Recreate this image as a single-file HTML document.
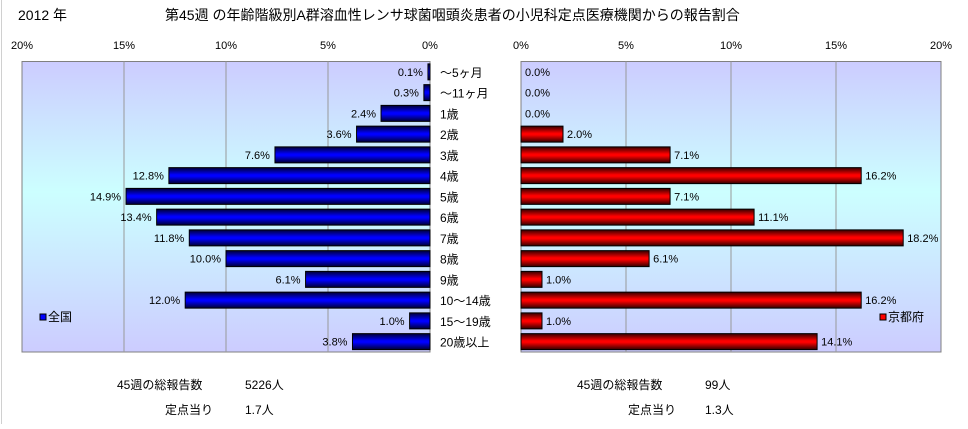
<!DOCTYPE html>
<html><head><meta charset="utf-8"><style>
body{margin:0;background:#fff;font-family:"Liberation Sans","Noto Sans CJK JP",sans-serif;}
svg text{font-family:"Liberation Sans","Noto Sans CJK JP",sans-serif;fill:#000;}
</style></head><body>
<svg id="c" width="968" height="424" xmlns="http://www.w3.org/2000/svg">
<defs>
<linearGradient id="bg" x1="0" y1="0" x2="0" y2="1">
<stop offset="0" stop-color="#ccccff"/><stop offset="0.45" stop-color="#ccffff"/><stop offset="1" stop-color="#ccccff"/></linearGradient>
<linearGradient id="gb" x1="0" y1="0" x2="0" y2="1">
<stop offset="0" stop-color="#000033"/><stop offset="0.45" stop-color="#0000ff"/><stop offset="0.55" stop-color="#0000ff"/><stop offset="1" stop-color="#000033"/></linearGradient>
<linearGradient id="gr" x1="0" y1="0" x2="0" y2="1">
<stop offset="0" stop-color="#330000"/><stop offset="0.45" stop-color="#ff0000"/><stop offset="0.55" stop-color="#ff0000"/><stop offset="1" stop-color="#330000"/></linearGradient>
</defs>
<line x1="1.5" y1="0" x2="1.5" y2="424" stroke="#d0d0d0"/>
<text x="18" y="20" font-size="14">2012 年</text>
<text x="165" y="20" font-size="14">第45週 の年齢階級別A群溶血性レンサ球菌咽頭炎患者の小児科定点医療機関からの報告割合</text>
<rect x="22" y="61.5" width="408" height="290.5" fill="url(#bg)" stroke="#808080"/>
<rect x="521" y="61.5" width="420" height="290.5" fill="url(#bg)" stroke="#808080"/>
<g id="g"></g>
<rect x="40" y="314" width="6" height="6" fill="#0000ff" stroke="#000"/>
<text x="48" y="321" font-size="12">全国</text>
<rect x="880" y="314" width="6" height="6" fill="#ff0000" stroke="#000"/>
<text x="888" y="321" font-size="12">京都府</text>
<text x="117" y="389" font-size="12">45週の総報告数</text>
<text x="245" y="389" font-size="12">5226人</text>
<text x="165" y="414" font-size="12">定点当り</text>
<text x="245" y="414" font-size="12">1.7人</text>
<text x="577" y="389" font-size="12">45週の総報告数</text>
<text x="705" y="389" font-size="12">99人</text>
<text x="628" y="414" font-size="12">定点当り</text>
<text x="705" y="414" font-size="12">1.3人</text>
</svg>
<script>
const categories=["～5ヶ月","～11ヶ月","1歳","2歳","3歳","4歳","5歳","6歳","7歳","8歳","9歳","10～14歳","15～19歳","20歳以上"];
const nationalValues=[0.1,0.3,2.4,3.6,7.6,12.8,14.9,13.4,11.8,10.0,6.1,12.0,1.0,3.8];
const kyotoValues=[0.0,0.0,0.0,2.0,7.1,16.2,7.1,11.1,18.2,6.1,1.0,16.2,1.0,14.1];
const tickValues=[0,5,10,15,20];
const NS="http://www.w3.org/2000/svg",g=document.getElementById('g');
const top0=61.5,rowH=290.5/categories.length;
const xL=v=>430-v*20.4, xR=v=>521+v*21;
const rowY=i=>top0+i*rowH;
function mk(t,a,p){const e=document.createElementNS(NS,t);for(const k in a)e.setAttribute(k,a[k]);(p||g).appendChild(e);return e;}
tickValues.forEach(t=>{
 if(t>0&&t<20){
 let e=mk('line',{x1:xL(t),x2:xL(t),y1:top0,y2:352,stroke:'#999'});
 
 
 e=mk('line',{x1:xR(t),x2:xR(t),y1:top0,y2:352,stroke:'#999'});
 
 }
 let l=mk('text',{x:xL(t),y:49,'font-size':11,'text-anchor':'middle'});l.textContent=t+'%';
 
 
 l=mk('text',{x:xR(t),y:49,'font-size':11,'text-anchor':'middle'});l.textContent=t+'%';
 
 
});
categories.forEach((c,i)=>{
 const y=rowY(i),cy=y+rowH/2,bh=16;
 const nv=nationalValues[i],kv=kyotoValues[i];
 let b=mk('rect',{x:xL(nv),y:cy-bh/2,width:Math.max(nv*20.4,1),height:bh,fill:'url(#gb)',stroke:'#000','stroke-width':1});
 
 
 let t=mk('text',{x:xL(nv)-5,y:cy+4,'font-size':11,'text-anchor':'end'});t.textContent=nv.toFixed(1)+'%';
 
 
 if(kv>0){b=mk('rect',{x:521,y:cy-bh/2,width:kv*21,height:bh,fill:'url(#gr)',stroke:'#000','stroke-width':1});
 
 }
 t=mk('text',{x:xR(kv)+4,y:cy+4,'font-size':11});t.textContent=kv.toFixed(1)+'%';
 
 
 t=mk('text',{x:440,y:cy+5,'font-size':12});t.textContent=c;
 
 
});
</script>
</body></html>
